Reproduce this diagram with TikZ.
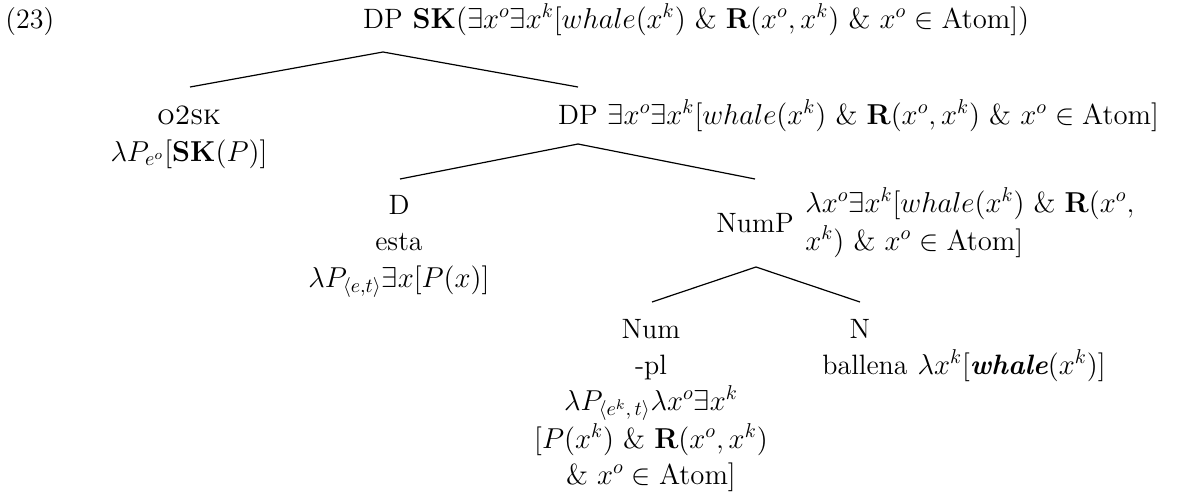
\documentclass[tikz,border=0pt]{standalone}
\usetikzlibrary{calc}
\begin{document}
\begin{tikzpicture}[x=0.5pt,y=-0.5pt,
  every node/.style={font=\fontsize{14}{19}\selectfont, inner sep=0pt},
  cat/.style={anchor=base},
  sem/.style={anchor=base},
  semr/.style={anchor=base west},
  branch/.style={line width=0.6pt}]
\useasboundingbox (0,0) rectangle (1183,493);
% example number
\node[semr] (ex) at (5,28) {(23)};
% root
\node[cat] (root) at (383,28) {DP};
\node[semr] (rootsem) at (root.base east) {\ $\mathbf{SK}(\exists x^o\exists x^k[whale(x^k)\ \&\ \mathbf{R}(x^o,x^k)\ \&\ x^o\in\mathrm{Atom}])$};
% O2SK
\node[cat] (o2sk) at (189,124) {\textsc{o2sk}};
\node[sem] (o2sksem) at (189,161) {$\lambda P_{e^o}[\mathbf{SK}(P)]$};
% DP
\node[cat] (dp) at (578,124) {DP};
\node[semr] (dpsem) at (dp.base east) {\ $\exists x^o\exists x^k[whale(x^k)\ \&\ \mathbf{R}(x^o,x^k)\ \&\ x^o\in\mathrm{Atom}]$};
% D
\node[cat] (d) at (399,214) {D};
\node[sem] (desta) at (399,250) {esta};
\node[sem] (dsem) at (399,287) {$\lambda P_{\langle e,t\rangle}\exists x[P(x)]$};
% NumP
\node[cat] (nump) at (755,232) {NumP};
\node[semr] (numpsemA) at (805,212) {$\lambda x^o\exists x^k[whale(x^k)\ \&\ \mathbf{R}(x^o,$};
\node[semr] (numpsemB) at (805,250) {$x^k)\ \&\ x^o\in\mathrm{Atom}]$};
% Num
\node[cat] (num) at (651,338) {Num};
\node[sem] (numpl) at (651,374) {-pl};
\node[sem] (numsemA) at (651,410) {$\lambda P_{\langle e^k,\,t\rangle}\lambda x^o\exists x^k$};
\node[sem] (numsemB) at (651,448) {$[P(x^k)\ \&\ \mathbf{R}(x^o,x^k)$};
\node[sem] (numsemC) at (651,484) {$\&\ x^o\in\mathrm{Atom}]$};
% N
\node[cat] (n) at (860,338) {N};
\node[sem] (nball) at (865,374) {ballena};
\node[semr] (nsem) at (nball.base east) {\ $\lambda x^k[\textbf{\textit{whale}}(x^k)]$};
% branches
\draw[branch] ($(root.base)+(0,24)$) -- ($(o2sk.base)+(1,-37)$);
\draw[branch] ($(root.base)+(0,24)$) -- ($(dp.base)+(0,-37)$);
\draw[branch] ($(dp.base)+(0,20)$) -- ($(d.base)+(1,-35)$);
\draw[branch] ($(dp.base)+(0,20)$) -- ($(nump.base)+(0,-53)$);
\draw[branch] ($(nump.base)+(1,35)$) -- ($(num.base)+(1,-36)$);
\draw[branch] ($(nump.base)+(1,35)$) -- ($(n.base)+(0,-36)$);
\end{tikzpicture}
\end{document}
